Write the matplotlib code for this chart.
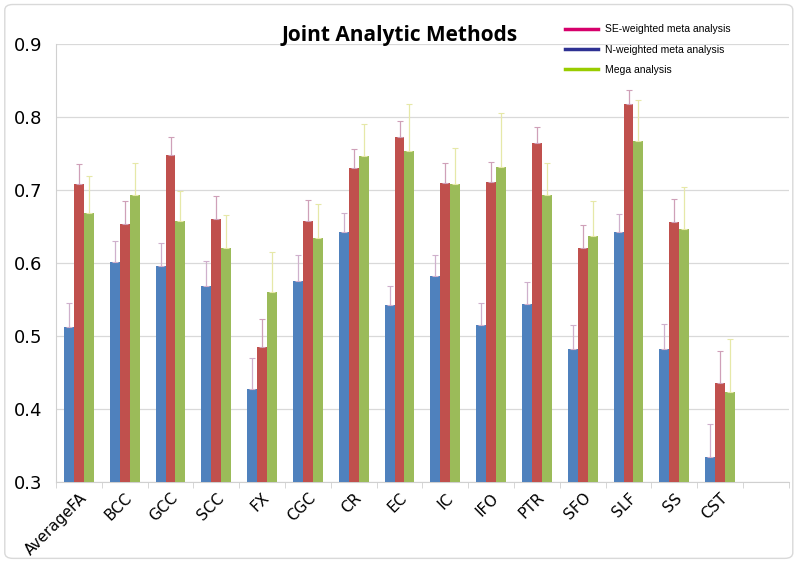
import numpy as np
import matplotlib
matplotlib.use("Agg")
import matplotlib.pyplot as plt
from matplotlib.lines import Line2D
from matplotlib.patches import FancyBboxPatch

# tract names (last slot on the axis is left empty, as in the original)
tracts = ["AverageFA", "BCC", "GCC", "SCC", "FX", "CGC", "CR", "EC",
          "IC", "IFO", "PTR", "SFO", "SLF", "SS", "CST"]

# bar heights
blue_vals = [0.513, 0.601, 0.596, 0.568, 0.428, 0.576, 0.642, 0.542,
             0.582, 0.515, 0.544, 0.482, 0.642, 0.482, 0.334]
red_vals = [0.708, 0.654, 0.748, 0.660, 0.485, 0.657, 0.730, 0.772,
            0.710, 0.711, 0.764, 0.620, 0.818, 0.656, 0.436]
green_vals = [0.668, 0.693, 0.658, 0.621, 0.560, 0.634, 0.747, 0.753,
              0.708, 0.731, 0.693, 0.637, 0.767, 0.646, 0.423]

# tops of the error bars
blue_err_top = [0.545, 0.630, 0.627, 0.603, 0.470, 0.611, 0.669, 0.568,
                0.611, 0.545, 0.574, 0.515, 0.667, 0.516, 0.379]
red_err_top = [0.736, 0.685, 0.773, 0.692, 0.523, 0.686, 0.756, 0.794,
               0.737, 0.738, 0.786, 0.652, 0.837, 0.688, 0.479]
green_err_top = [0.719, 0.737, 0.699, 0.666, 0.615, 0.681, 0.790, 0.818,
                 0.757, 0.805, 0.737, 0.685, 0.823, 0.704, 0.496]

legend_labels = ["SE-weighted meta analysis", "N-weighted meta analysis", "Mega analysis"]

fig = plt.figure(figsize=(8, 5.64), dpi=100)
ax = fig.add_axes([0.07, 0.1454, 0.916, 0.7766])

x = np.arange(len(tracts)) + 0.5
w = 0.218

series = [
    (blue_vals, blue_err_top, "#4f81bd", "#cfb0cc", -w),
    (red_vals, red_err_top, "#c0504d", "#cfa0b8", 0.0),
    (green_vals, green_err_top, "#9bbb59", "#e6e8a8", w),
]
for vals, tops, col, ecol, off in series:
    vals = np.array(vals)
    up = np.array(tops) - vals
    ax.bar(x + off, vals - 0.3, width=w, bottom=0.3, color=col, zorder=3)
    ax.errorbar(x + off, vals, yerr=[np.zeros_like(up), up], fmt="none",
                ecolor=ecol, elinewidth=0.9, capsize=2, capthick=0.8, zorder=4)

ax.set_xlim(0, 16)
ax.set_ylim(0.3, 0.9)
ax.set_yticks(np.arange(0.3, 0.91, 0.1))
ax.set_yticklabels(["%.1f" % v for v in np.arange(0.3, 0.91, 0.1)], fontsize=13)
ax.tick_params(axis="y", length=0, pad=10)

ax.set_xticks(x)
ax.set_xticklabels(tracts, rotation=45, ha="right", va="top",
                   rotation_mode="anchor", fontsize=11)
ax.tick_params(axis="x", which="major", length=0, pad=6)
ax.set_xticks(np.arange(0, 17), minor=True)
ax.tick_params(axis="x", which="minor", length=4, color="#d0d0d0")

ax.grid(axis="y", color="#d9d9d9", linewidth=0.9, zorder=0)
for s in ["top", "right"]:
    ax.spines[s].set_visible(False)
for s in ["left", "bottom"]:
    ax.spines[s].set_color("#d0d0d0")

fig.text(0.5, 0.937, "Joint Analytic Methods", ha="center", va="center",
         fontsize=15, fontweight="bold", family="Open Sans")

handles = [Line2D([], [], color=c, lw=2.5) for c in ["#d6006b", "#2e3192", "#99cc00"]]
fig.legend(handles, legend_labels, loc="upper left", bbox_to_anchor=(0.706, 0.957),
           frameon=False, prop={"family": "Liberation Sans", "size": 7.5},
           handlelength=3.2, handletextpad=0.7, labelspacing=1.0,
           borderpad=0, borderaxespad=0)

fig.patches.append(FancyBboxPatch((0.006, 0.01), 0.985, 0.982,
                                  boxstyle="round,pad=0,rounding_size=0.01",
                                  transform=fig.transFigure, fill=False,
                                  edgecolor="#d9d9d9", linewidth=1))

fig.savefig("out.png", dpi=100)
